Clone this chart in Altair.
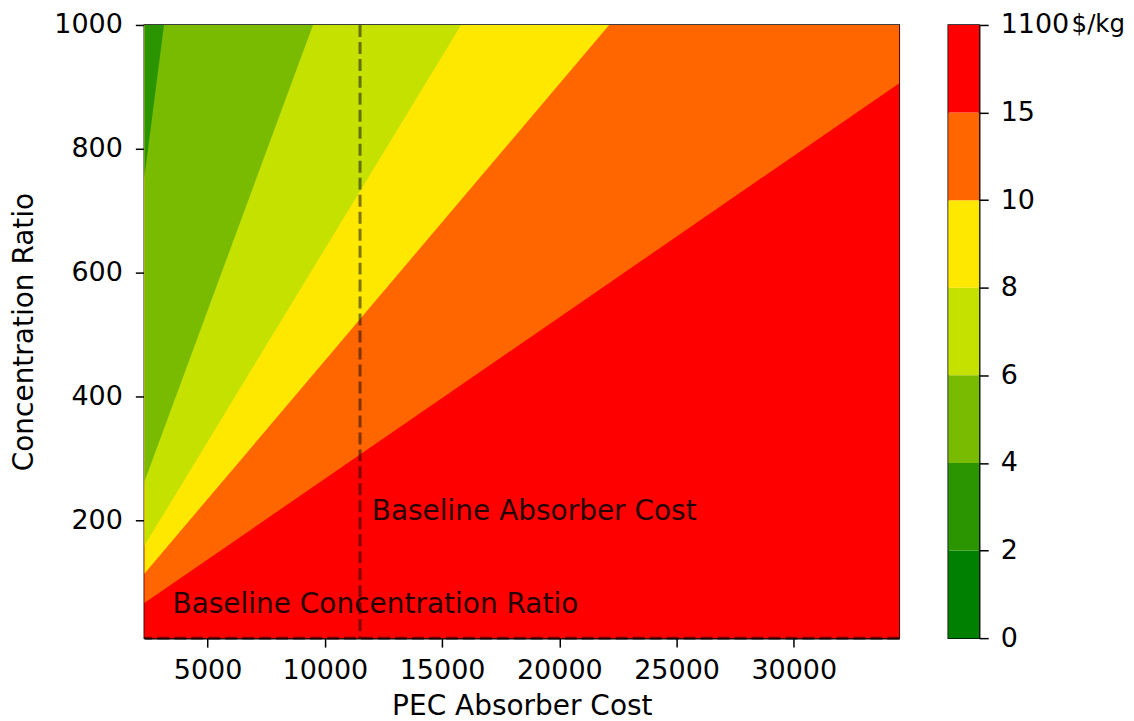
import json
import altair as alt
import pandas as pd

# ---- data ----
levels = [0, 2, 4, 6, 8, 10, 15, 1100]
band_colors = ["#008000", "#2a9500", "#78bb00", "#c4e100", "#ffe800", "#ff6600", "#ff0000"]

x_min, x_max = 2300, 34500
y_min, y_max = 10, 1000

# contour boundaries (lower edge of the band above) : left-edge point and end point
bound_level = [15, 10, 8, 6, 4]
bound_x0 = [2300, 2300, 2300, 2300, 2300]
bound_y0 = [66.6, 114, 159, 262, 753]
bound_x1 = [34500, 22126, 15812, 9494, 3139]
bound_y1 = [906, 1000, 1000, 1000, 1000]

baseline_cost = 11500
baseline_ratio = 10
ann_text = ["Baseline Absorber Cost", "Baseline Concentration Ratio"]
ann_x = [12000, 3500]
ann_y = [200, 50]

x_ticks = [5000, 10000, 15000, 20000, 25000, 30000]
y_ticks = [200, 400, 600, 800, 1000]

FONT = "DejaVu Sans"
FS = 27      # tick labels
FT = 28      # titles and annotations

xscale = alt.Scale(domain=[x_min, x_max], nice=False, zero=False)
yscale = alt.Scale(domain=[y_min, y_max], nice=False, zero=False)
xaxis = alt.Axis(values=x_ticks, title="PEC Absorber Cost", grid=False, format="d",
                 labelPadding=10, titlePadding=9)
yaxis = alt.Axis(values=y_ticks, title="Concentration Ratio", grid=False, format="d",
                 labelPadding=13, titlePadding=15)

def X():
    return alt.X("x:Q", scale=xscale, axis=xaxis)

def Y():
    return alt.Y("y:Q", scale=yscale, axis=yaxis, stack=None)

# red background (highest band)
bg = pd.DataFrame({"x": [x_min], "x2": [x_max], "y": [y_min], "top": [y_max]})
layers = [
    alt.Chart(bg).mark_rect(color=band_colors[6]).encode(
        x=X(), x2="x2:Q", y=Y(), y2="top:Q")
]

rows = []
for lvl, x0, y0, x1, y1 in zip(bound_level, bound_x0, bound_y0, bound_x1, bound_y1):
    rows.append({"level": lvl, "x": x0, "y": y0, "top": y_max})
    rows.append({"level": lvl, "x": x1, "y": y1, "top": y_max})
bdf = pd.DataFrame(rows)

for lvl in bound_level:
    idx = levels.index(lvl) - 1  # band below this boundary
    col = band_colors[idx]
    layers.append(
        alt.Chart(bdf).transform_filter(alt.datum.level == lvl)
        .mark_area(color=col, clip=True, interpolate="linear")
        .encode(x=X(), y=Y(), y2="top:Q")
    )

vline = alt.Chart(pd.DataFrame({"x": [baseline_cost]})).mark_rule(
    color="black", opacity=0.5, strokeDash=[12, 5], strokeWidth=3
).encode(x=X())
hline = alt.Chart(pd.DataFrame({"y": [baseline_ratio]})).mark_rule(
    color="black", opacity=0.5, strokeDash=[12, 5], strokeWidth=3
).encode(y=Y())

ann = alt.Chart(pd.DataFrame({"x": ann_x, "y": ann_y, "t": ann_text})).mark_text(
    align="left", baseline="alphabetic", font=FONT, fontSize=FT, color="black", opacity=0.85
).encode(x=X(), y=Y(), text="t:N")

main = alt.layer(*layers, vline, hline, ann).properties(width=756, height=614)

# ---- colorbar ----
cb = pd.DataFrame({
    "lo": list(range(len(band_colors))),
    "hi": list(range(1, len(band_colors) + 1)),
    "band": [str(i) for i in range(len(band_colors))],
})
label_expr = json.dumps([str(v) for v in levels]) + "[datum.value]"
cbar = alt.Chart(cb).mark_rect().encode(
    x=alt.datum(0, scale=alt.Scale(domain=[0, 1]), axis=None),
    x2=alt.datum(1),
    y=alt.Y("lo:Q", scale=alt.Scale(domain=[0, len(band_colors)], nice=False, zero=False),
            axis=alt.Axis(orient="right", values=list(range(len(levels))), labelExpr=label_expr,
                          grid=False, title="$/kg", titleAngle=0, titleX=92, titleY=0,
                          titleAlign="left", titleBaseline="middle", titleFontSize=24.5,
                          labelPadding=12)),
    y2="hi:Q",
    color=alt.Color("band:N", scale=alt.Scale(domain=cb["band"].tolist(), range=band_colors), legend=None),
).properties(width=31, height=614)

chart = alt.hconcat(main, cbar, spacing=45).properties(
    padding={"left": 1.5, "top": 1.5, "right": 0, "bottom": 0}
).configure_view(stroke="black", strokeWidth=1.5).configure_axis(
    labelFont=FONT, labelFontSize=FS, labelColor="black",
    titleFont=FONT, titleFontSize=FT, titleColor="black", titleFontWeight="normal",
    domainColor="black", domainWidth=1.5, tickColor="black", tickWidth=1.5, tickSize=9,
)

chart.save("out.html", embed_options={"renderer": "svg", "actions": False})
